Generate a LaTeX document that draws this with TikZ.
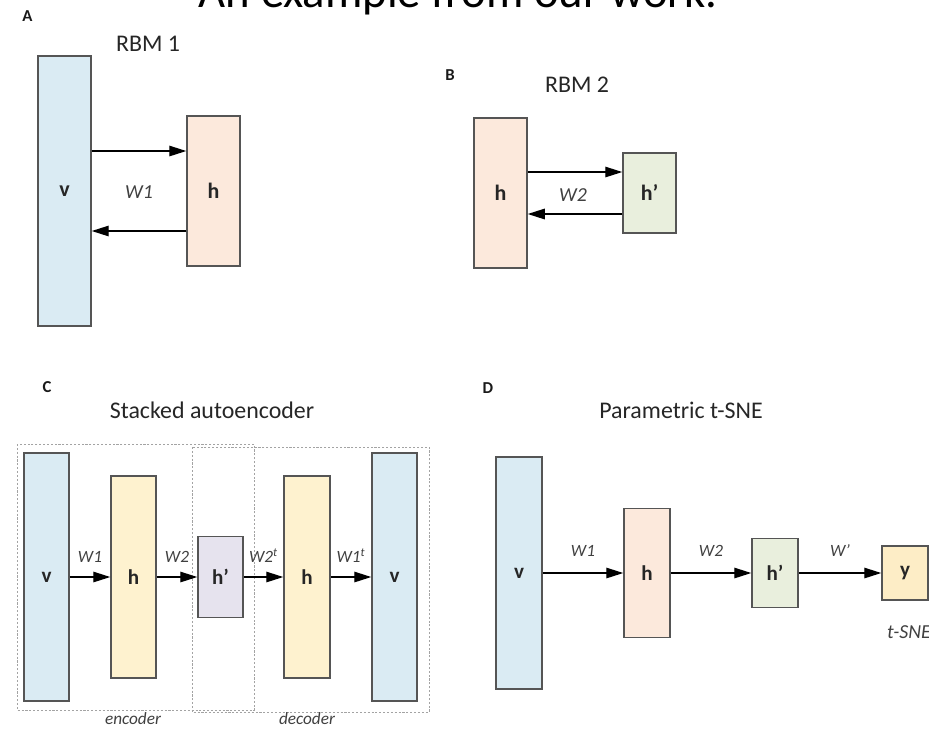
\documentclass[tikz,border=0pt]{standalone}
\usepackage{fontspec}
\setmainfont{Carlito}
\usetikzlibrary{arrows.meta}
\definecolor{vblue}{HTML}{DAEBF3}
\definecolor{hpeach}{HTML}{FCE9DC}
\definecolor{hgreen}{HTML}{E9EFDD}
\definecolor{hyellow}{HTML}{FEF2CF}
\definecolor{hlilac}{HTML}{E6E3EE}
\definecolor{yorange}{HTML}{FDEDC6}
\definecolor{edgegray}{HTML}{555555}
\definecolor{dotgray}{HTML}{A3A3A3}
\begin{document}
\begin{tikzpicture}[x=0.02cm,y=-0.02cm,
    layer/.style={draw=edgegray,line width=0.85pt,inner sep=0pt,text=black!85,font=\fontsize{12.5}{14}\selectfont\bfseries},
    small/.style={font=\fontsize{12}{14}\selectfont\bfseries},
    sz/.style 2 args={minimum width=#1*0.02cm,minimum height=#2*0.02cm},
    arr/.style={-{Triangle[length=0.34cm,width=0.21cm]},line width=0.75pt},
    group/.style={draw=dotgray,line width=0.5pt,dash pattern=on 1.2pt off 1pt},
    panel/.style={font=\fontsize{9.5}{11}\selectfont\bfseries,text=black!90},
    head/.style={font=\fontsize{13.6}{15}\selectfont,text=black!85},
    wbig/.style={font=\fontsize{11.3}{13}\selectfont\itshape,text=black!75},
    wsmall/.style={font=\fontsize{9.8}{11}\selectfont\itshape,text=black!75}]
    \clip (0,0) rectangle (929,728);
    %% Title
    \node[font=\fontsize{26.6}{30}\selectfont,anchor=base] (title) at (458,7) {An example from our work.};
    %% A: first RBM
    \node[panel] (la) at (27.5,16.5) {A};
    \node[head] (ta) at (148,44) {RBM 1};
    \node[layer,fill=vblue,sz={53}{270}] (av) at (64.5,191) {v};
    \node[layer,fill=hpeach,sz={53}{150}] (ah) at (213.5,191) {h};
    \draw[arr] ([yshift=0.8cm]av.east) -- ([yshift=0.8cm]av.east -| ah.west);
    \draw[arr] ([yshift=-0.8cm]ah.west) -- ([yshift=-0.8cm]ah.west -| av.east);
    \node[wbig] (aw) at (139,192) {W1};
    %% B: second RBM
    \node[panel] (lb) at (450,75) {B};
    \node[head] (tb) at (577,85) {RBM 2};
    \node[layer,fill=hpeach,sz={53}{150}] (bh) at (500.5,193) {h};
    \node[layer,fill=hgreen,sz={53}{80}] (bhp) at (649.5,193) {h’};
    \draw[arr] ([yshift=0.42cm]bh.east) -- ([yshift=0.42cm]bh.east -| bhp.west);
    \draw[arr] ([yshift=-0.42cm]bhp.west) -- ([yshift=-0.42cm]bhp.west -| bh.east);
    \node[wbig] (bw) at (573,195) {W2};
    %% C: stacked autoencoder
    \node[panel] (lc) at (47,387) {C};
    \node[head] (tc) at (212,410) {Stacked autoencoder};
    \draw[group] (17,444) rectangle (254,710);
    \draw[group] (192,447) rectangle (429,712);
    \node[layer,small,fill=vblue,sz={45}{248}] (cv) at (46.5,577) {v};
    \node[layer,small,fill=hyellow,sz={45}{202}] (ch) at (133.5,577) {h};
    \node[layer,small,fill=hlilac,sz={45}{81}] (chp) at (220.5,577) {h’};
    \node[layer,small,fill=hyellow,sz={46}{202}] (chb) at (307,577) {h};
    \node[layer,small,fill=vblue,sz={45}{248}] (cvb) at (394.5,577) {v};
    \draw[arr] (cv) -- (ch) node[midway,above=0.16cm,wsmall] {W1};
    \draw[arr] (ch) -- (chp) node[midway,above=0.16cm,wsmall] {W2};
    \draw[arr] (chp) -- (chb) node[midway,above=0.16cm,wsmall] {W2\textsuperscript{t}};
    \draw[arr] (chb) -- (cvb) node[midway,above=0.16cm,wsmall] {W1\textsuperscript{t}};
    \node[wsmall,anchor=base] (enc) at (133,724) {encoder};
    \node[wsmall,anchor=base] (dec) at (307,724) {decoder};
    %% D: parametric t-SNE
    \node[panel] (ld) at (488,388) {D};
    \node[head] (td) at (681,410) {Parametric t-SNE};
    \node[layer,small,fill=vblue,sz={46}{232}] (dv) at (519,573) {v};
    \node[layer,small,fill=hpeach,sz={46}{129}] (dh) at (647,573) {h};
    \node[layer,small,fill=hgreen,sz={46}{69}] (dhp) at (775,573) {h’};
    \node[layer,small,fill=yorange,sz={46}{54}] (dy) at (905,573) {y};
    \draw[arr] (dv) -- (dh) node[midway,above=0.2cm,wsmall] {W1};
    \draw[arr] (dh) -- (dhp) node[midway,above=0.2cm,wsmall] {W2};
    \draw[arr] (dhp) -- (dy) node[midway,above=0.2cm,wsmall] {W’};
    \node[wbig,anchor=base west] (tsne) at (881,638) {t-SNE};
\end{tikzpicture}
\end{document}
